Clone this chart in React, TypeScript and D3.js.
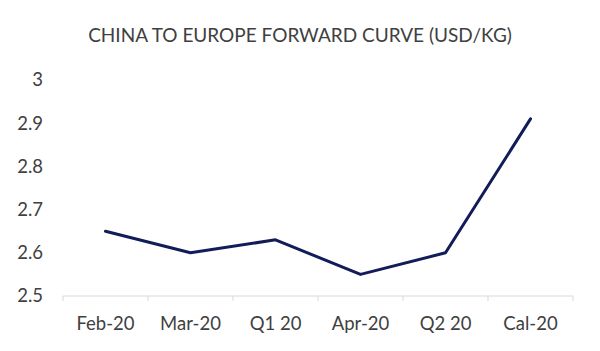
import { useEffect, useRef } from 'react';
import * as d3 from 'd3';

const categories = ['Feb-20', 'Mar-20', 'Q1 20', 'Apr-20', 'Q2 20', 'Cal-20'];
const values = [2.65, 2.6, 2.63, 2.55, 2.6, 2.91];
const yTicks = [2.5, 2.6, 2.7, 2.8, 2.9, 3];
const title = 'CHINA TO EUROPE FORWARD CURVE (USD/KG)';

const width = 600;
const height = 351;
const margin = { top: 80, right: 27, bottom: 55, left: 63 };
const textColor = '#404040';
const axisColor = '#d9d9d9';
const lineColor = '#121c58';
const font = 'Lato, "Open Sans", sans-serif';

export default function App() {
  const ref = useRef<SVGSVGElement>(null);

  useEffect(() => {
    const svg = d3.select(ref.current);
    svg.selectAll('*').remove();

    const gW = width - margin.left - margin.right;
    const gH = height - margin.top - margin.bottom;

    const x = d3.scaleBand().domain(categories).range([0, gW]);
    const y = d3.scaleLinear().domain([2.5, 3]).range([gH, 0]);

    // title
    svg
      .append('text')
      .attr('x', 300)
      .attr('y', 42)
      .attr('text-anchor', 'middle')
      .attr('font-family', font)
      .attr('font-size', 19)
      .attr('fill', textColor)
      .text(title);

    const g = svg
      .append('g')
      .attr('transform', `translate(${margin.left},${margin.top})`);

    // y labels, no axis line
    const yAxis = g
      .append('g')
      .call(d3.axisLeft(y).tickValues(yTicks).tickSize(0).tickPadding(20).tickFormat((d) => String(d)));
    yAxis.select('.domain').remove();
    yAxis
      .selectAll('text')
      .attr('font-family', font)
      .attr('font-size', 18.5)
      .attr('fill', textColor);

    // x axis with tick marks at band edges
    const xAxis = g.append('g').attr('transform', `translate(0,${gH})`);
    xAxis
      .append('line')
      .attr('x1', 0)
      .attr('x2', gW)
      .attr('stroke', axisColor)
      .attr('stroke-width', 1);
    xAxis
      .selectAll('line.tick')
      .data(d3.range(categories.length + 1))
      .join('line')
      .attr('class', 'tick')
      .attr('x1', (i) => i * x.step())
      .attr('x2', (i) => i * x.step())
      .attr('y1', 0)
      .attr('y2', 5)
      .attr('stroke', axisColor);
    xAxis
      .selectAll('text')
      .data(categories)
      .join('text')
      .attr('x', (d) => x(d)! + x.bandwidth() / 2)
      .attr('y', 28)
      .attr('dy', '0.35em')
      .attr('text-anchor', 'middle')
      .attr('font-family', font)
      .attr('font-size', 18.5)
      .attr('fill', textColor)
      .text((d) => d);

    const line = d3
      .line<number>()
      .x((_, i) => x(categories[i])! + x.bandwidth() / 2)
      .y((d) => y(d));

    g.append('path')
      .datum(values)
      .attr('d', line)
      .attr('fill', 'none')
      .attr('stroke', lineColor)
      .attr('stroke-width', 3)
      .attr('stroke-linecap', 'round')
      .attr('stroke-linejoin', 'round');
  }, []);

  return (
    <svg
      ref={ref}
      width={width}
      height={height}
      style={{ position: 'absolute', left: 0, top: 0, background: '#fff' }}
    />
  );
}
